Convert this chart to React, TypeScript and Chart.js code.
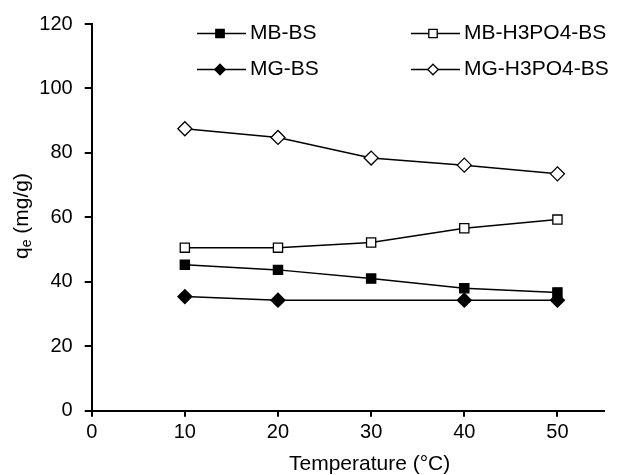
import React, { useEffect, useRef } from 'react';
import { Chart, registerables } from 'chart.js';

Chart.register(...registerables);

const temperatures = [10, 20, 30, 40, 50];
const mbBs = [45.3, 43.7, 41.0, 38.0, 36.7];
const mbH3po4Bs = [50.6, 50.6, 52.2, 56.6, 59.3];
const mgBs = [35.4, 34.3, 34.3, 34.3, 34.3];
const mgH3po4Bs = [87.5, 84.8, 78.4, 76.2, 73.5];
const xTicks = [0, 10, 20, 30, 40, 50];
const yTicks = [0, 20, 40, 60, 80, 100, 120];
const seriesNames = ['MB-BS', 'MB-H3PO4-BS', 'MG-BS', 'MG-H3PO4-BS'];
const xTitle = 'Temperature (°C)';
const yTitleMain = 'q';
const yTitleSub = 'e';
const yTitleRest = ' (mg/g)';

const FONT = '"Liberation Sans", Arial, sans-serif';
const W = 618;
const H = 475;

type Marker = { style: string; fill: string };
const markers: Marker[] = [
  { style: 'rect', fill: '#000' },
  { style: 'rect', fill: '#fff' },
  { style: 'rectRot', fill: '#000' },
  { style: 'rectRot', fill: '#fff' },
];

function drawMarker(ctx: CanvasRenderingContext2D, m: Marker, x: number, y: number, half: number) {
  ctx.save();
  ctx.beginPath();
  if (m.style === 'rect') {
    ctx.rect(x - half, y - half, half * 2, half * 2);
  } else {
    ctx.moveTo(x, y - half * 1.25);
    ctx.lineTo(x + half * 1.25, y);
    ctx.lineTo(x, y + half * 1.25);
    ctx.lineTo(x - half * 1.25, y);
    ctx.closePath();
  }
  ctx.fillStyle = m.fill;
  ctx.fill();
  ctx.lineWidth = 1.3;
  ctx.strokeStyle = '#000';
  ctx.stroke();
  ctx.restore();
}

const overlayPlugin = {
  id: 'overlay',
  afterDraw(chart: any) {
    const ctx: CanvasRenderingContext2D = chart.ctx;
    ctx.save();
    // legend
    const cols = [
      { lineStart: 197, lineEnd: 246, marker: 220, text: 250 },
      { lineStart: 411, lineEnd: 460, marker: 433, text: 464 },
    ];
    const rows = [33.5, 69.5];
    seriesNames.forEach((name, i) => {
      const c = cols[i % 2];
      const y = rows[Math.floor(i / 2)];
      ctx.beginPath();
      ctx.moveTo(c.lineStart, y);
      ctx.lineTo(c.lineEnd, y);
      ctx.lineWidth = 1.5;
      ctx.strokeStyle = '#000';
      ctx.stroke();
      drawMarker(ctx, markers[i], c.marker, y, 4.2);
      ctx.fillStyle = '#000';
      ctx.font = `21px ${FONT}`;
      ctx.textAlign = 'left';
      ctx.textBaseline = 'alphabetic';
      ctx.fillText(name, c.text, y + 5);
    });
    // x title
    ctx.font = `21px ${FONT}`;
    ctx.textAlign = 'left';
    ctx.textBaseline = 'alphabetic';
    ctx.fillText(xTitle, 289, 470);
    // y title (rotated)
    ctx.translate(28, 216);
    ctx.rotate(-Math.PI / 2);
    ctx.font = `21px ${FONT}`;
    const wMain = ctx.measureText(yTitleMain).width;
    ctx.font = `14px ${FONT}`;
    const wSub = ctx.measureText(yTitleSub).width;
    ctx.font = `21px ${FONT}`;
    const wRest = ctx.measureText(yTitleRest).width;
    const total = wMain + wSub + wRest;
    let x0 = -total / 2;
    ctx.textAlign = 'left';
    ctx.fillText(yTitleMain, x0, 0);
    x0 += wMain;
    ctx.font = `14px ${FONT}`;
    ctx.fillText(yTitleSub, x0, 3);
    x0 += wSub;
    ctx.font = `21px ${FONT}`;
    ctx.fillText(yTitleRest, x0, 0);
    ctx.restore();
  },
};

const whiteBg = {
  id: 'whiteBg',
  beforeDraw(chart: any) {
    const ctx = chart.ctx;
    ctx.save();
    ctx.fillStyle = '#ffffff';
    ctx.fillRect(0, 0, chart.width, chart.height);
    ctx.restore();
  },
};

export default function App() {
  const ref = useRef<HTMLCanvasElement | null>(null);

  useEffect(() => {
    document.body.style.margin = '0';
    const canvas = ref.current;
    if (!canvas) return;
    const seriesData = [mbBs, mbH3po4Bs, mgBs, mgH3po4Bs];
    const datasets = seriesData.map((vals, i) => ({
      label: seriesNames[i],
      data: temperatures.map((t, j) => ({ x: t, y: vals[j] })),
      borderColor: '#000',
      borderWidth: 1.5,
      backgroundColor: markers[i].fill,
      pointStyle: markers[i].style,
      pointRadius: i === 2 ? temperatures.map((t) => (t === 30 ? 0 : 7)) : i < 2 ? 6.5 : 7,
      pointBorderColor: '#000',
      pointBorderWidth: 1.3,
      pointBackgroundColor: markers[i].fill,
      tension: 0,
      fill: false,
    }));

    const chart = new Chart(canvas, {
      type: 'line',
      data: { datasets },
      options: {
        animation: false,
        responsive: false,
        maintainAspectRatio: false,
        devicePixelRatio: 1,
        layout: { padding: { top: 23, right: 14, bottom: 0, left: 0 } },
        plugins: {
          legend: { display: false },
          tooltip: { enabled: false },
          title: { display: false },
        },
        scales: {
          x: {
            type: 'linear',
            min: 0,
            max: 55,
            afterBuildTicks: (scale: any) => {
              scale.ticks = xTicks.map((v) => ({ value: v }));
            },
            afterFit: (scale: any) => {
              scale.height = 64.3;
            },
            ticks: {
              color: '#000',
              font: { family: FONT, size: 20 },
              padding: 4,
              maxRotation: 0,
            },
            grid: {
              display: true,
              drawOnChartArea: false,
              drawTicks: true,
              tickLength: 6,
              color: '#000',
              lineWidth: 2,
            },
            border: { display: true, color: '#000', width: 2 },
          },
          y: {
            type: 'linear',
            min: 0,
            max: 120,
            afterBuildTicks: (scale: any) => {
              scale.ticks = yTicks.map((v) => ({ value: v }));
            },
            afterFit: (scale: any) => {
              scale.width = 91.7;
            },
            ticks: {
              color: '#000',
              font: { family: FONT, size: 20 },
              padding: 12,
            },
            grid: {
              display: true,
              drawOnChartArea: false,
              drawTicks: true,
              tickLength: 7,
              color: '#000',
              lineWidth: 2,
            },
            border: { display: true, color: '#000', width: 2 },
          },
        },
      },
      plugins: [whiteBg, overlayPlugin],
    } as any);

    return () => {
      chart.destroy();
    };
  }, []);

  return (
    <canvas
      ref={ref}
      width={W}
      height={H}
      style={{ display: 'block', width: W + 'px', height: H + 'px' }}
    />
  );
}
